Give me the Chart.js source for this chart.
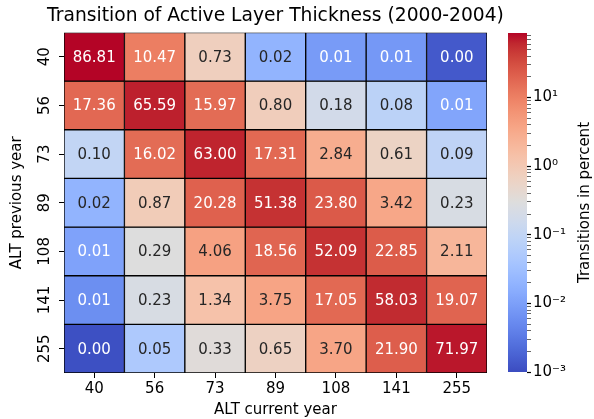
<!DOCTYPE html>
<html>
<head>
<meta charset="utf-8">
<script src="https://cdn.jsdelivr.net/npm/chart.js@4/dist/chart.umd.min.js"></script>
<style>
  html, body { margin: 0; padding: 0; background: #fff; }
  #wrap { position: relative; width: 594px; height: 419px; }
  canvas { position: absolute; left: 0; top: 0; }
</style>
</head>
<body>
<div id="wrap">
  <canvas id="heat" width="594" height="419"></canvas>
  <canvas id="cbar" width="594" height="419"></canvas>
</div>
<script>
// ALT classes (cm), rows = previous year, columns = current year
const altClasses = ['40', '56', '73', '89', '108', '141', '255'];

// transition percentages, one array per previous-year class (top to bottom)
// tiny cells ("0.00", "0.01") carry an estimate of the unrounded value read from their colour
const row40  = [86.81, 10.47, 0.73, 0.02, 0.0087, 0.008, 0.0014];
const row56  = [17.36, 65.59, 15.97, 0.80, 0.18, 0.08, 0.012];
const row73  = [0.10, 16.02, 63.00, 17.31, 2.84, 0.61, 0.09];
const row89  = [0.02, 0.87, 20.28, 51.38, 23.80, 3.42, 0.23];
const row108 = [0.011, 0.29, 4.06, 18.56, 52.09, 22.85, 2.11];
const row141 = [0.006, 0.23, 1.34, 3.75, 17.05, 58.03, 19.07];
const row255 = [0.0011, 0.05, 0.33, 0.65, 3.70, 21.90, 71.97];
const transitions = [row40, row56, row73, row89, row108, row141, row255];

const vmin = 0.001;
const vmax = 86.81;

// colorbar ticks (powers of ten)
const cbarExponents = [-3, -2, -1, 0, 1];

const chartTitle = 'Transition of Active Layer Thickness (2000-2004)';

// coolwarm colormap
const coolwarm = [
  [59,76,192],[68,90,204],[77,104,215],[87,117,225],[98,130,234],[108,142,241],
  [119,154,247],[130,165,251],[141,176,254],[152,185,255],[163,194,255],[174,201,253],
  [184,208,249],[194,213,244],[204,217,238],[213,219,230],[221,221,221],[229,216,209],
  [236,211,197],[241,204,185],[245,196,173],[247,187,160],[247,177,148],[247,166,135],
  [244,154,123],[241,141,111],[236,127,99],[229,112,88],[222,96,77],[213,80,66],
  [203,62,56],[192,40,47],[180,4,38]
];

function cmap(t) {
  t = Math.max(0, Math.min(1, t));
  const p = t * (coolwarm.length - 1);
  const i = Math.min(Math.floor(p), coolwarm.length - 2);
  const f = p - i;
  const a = coolwarm[i], b = coolwarm[i + 1];
  return [0, 1, 2].map(k => Math.round(a[k] + (b[k] - a[k]) * f));
}

function normLog(v) {
  return (Math.log10(v) - Math.log10(vmin)) / (Math.log10(vmax) - Math.log10(vmin));
}

function rgbStr(c) { return 'rgb(' + c[0] + ',' + c[1] + ',' + c[2] + ')'; }

function textColor(c) {
  const lin = c.map(x => {
    x = x / 255;
    return x <= 0.03928 ? x / 12.92 : Math.pow((x + 0.055) / 1.055, 2.4);
  });
  const lum = 0.2126 * lin[0] + 0.7152 * lin[1] + 0.0722 * lin[2];
  return lum > 0.408 ? '#262626' : '#ffffff';
}

const FONT = '"DejaVu Sans", sans-serif';
Chart.defaults.font.family = FONT;
Chart.defaults.color = '#000';

// heatmap: one floating-bar dataset per row
const datasets = transitions.map((row, r) => ({
  label: altClasses[r],
  data: row.map(() => [altClasses.length - 1 - r, altClasses.length - r]),
  backgroundColor: row.map(v => rgbStr(cmap(normLog(v)))),
  borderColor: '#000',
  borderWidth: 1,
  borderSkipped: false,
  barPercentage: 1,
  categoryPercentage: 1
}));

const cellLabels = {
  id: 'cellLabels',
  afterDatasetsDraw(chart) {
    const ctx = chart.ctx;
    ctx.save();
    ctx.font = '15px ' + FONT;
    ctx.textAlign = 'center';
    ctx.textBaseline = 'middle';
    transitions.forEach((row, r) => {
      chart.getDatasetMeta(r).data.forEach((bar, j) => {
        const v = row[j];
        ctx.fillStyle = textColor(cmap(normLog(v)));
        ctx.fillText(v.toFixed(2), bar.x, (bar.y + bar.base) / 2 + 1);
      });
    });
    ctx.restore();
  }
};

// title centred over the heatmap, drawn without width squeezing
const heatTitle = {
  id: 'heatTitle',
  afterDraw(chart) {
    const ctx = chart.ctx;
    const a = chart.chartArea;
    ctx.save();
    ctx.font = '18.7px ' + FONT;
    ctx.fillStyle = '#000';
    ctx.textAlign = 'center';
    ctx.textBaseline = 'middle';
    ctx.fillText(chartTitle, (a.left + a.right) / 2, 16);
    ctx.restore();
  }
};

new Chart(document.getElementById('heat'), {
  type: 'bar',
  data: { labels: altClasses, datasets: datasets },
  options: {
    responsive: false,
    animation: false,
    layout: { padding: { left: 0, right: 107, top: 32.5, bottom: 0 } },
    plugins: {
      legend: { display: false },
      tooltip: { enabled: false },
      title: { display: false }
    },
    scales: {
      x: {
        stacked: true,
        border: { display: false },
        grid: { drawOnChartArea: false, offset: false, color: '#000', tickLength: 5 },
        ticks: { font: { size: 15 }, color: '#000', padding: 2 },
        title: { display: true, text: 'ALT current year', font: { size: 15 }, color: '#000', padding: { top: 0, bottom: 0 } },
        afterFit(scale) { scale.height = 46; }
      },
      y: {
        min: 0,
        max: altClasses.length,
        border: { display: false },
        grid: { drawOnChartArea: false, color: '#000', tickLength: 5 },
        afterBuildTicks(scale) {
          scale.ticks = altClasses.map((c, i) => ({ value: i + 0.5 }));
        },
        ticks: {
          font: { size: 15 },
          color: '#000',
          minRotation: 90,
          maxRotation: 90,
          crossAlign: 'center',
          padding: 0,
          callback: (v) => altClasses[altClasses.length - 1 - Math.floor(v)]
        },
        title: { display: true, text: 'ALT previous year', font: { size: 15 }, color: '#000', padding: { top: 8, bottom: 0 } },
        afterFit(scale) { scale.width = 64; }
      }
    }
  },
  plugins: [cellLabels, heatTitle]
});

// colorbar
const sup = { '-': '\u207B', '0': '\u2070', '1': '\u00B9', '2': '\u00B2', '3': '\u00B3' };
function isPow10(v) {
  const l = Math.log10(v);
  return Math.abs(l - Math.round(l)) < 1e-6;
}
function powLabel(v) {
  const e = String(Math.round(Math.log10(v)));
  return '10' + e.split('').map(ch => sup[ch]).join('');
}

const cbarLabel = {
  id: 'cbarLabel',
  afterDraw(chart) {
    const ctx = chart.ctx;
    const a = chart.chartArea;
    ctx.save();
    ctx.font = '15px ' + FONT;
    ctx.fillStyle = '#000';
    ctx.textAlign = 'center';
    ctx.textBaseline = 'middle';
    ctx.translate(585, (a.top + a.bottom) / 2);
    ctx.rotate(-Math.PI / 2);
    ctx.fillText('Transitions in percent', 0, 0);
    ctx.restore();
  }
};

new Chart(document.getElementById('cbar'), {
  type: 'bar',
  data: {
    labels: ['cbar'],
    datasets: [{
      data: [[vmin, vmax]],
      borderWidth: 0,
      borderSkipped: false,
      barPercentage: 1,
      categoryPercentage: 1,
      backgroundColor(context) {
        const area = context.chart.chartArea;
        if (!area) return '#ddd';
        const g = context.chart.ctx.createLinearGradient(0, area.bottom, 0, area.top);
        for (let i = 0; i <= 64; i++) {
          g.addColorStop(i / 64, rgbStr(cmap(i / 64)));
        }
        return g;
      }
    }]
  },
  options: {
    responsive: false,
    animation: false,
    layout: { padding: { left: 508, right: 0, top: 33, bottom: 47 } },
    plugins: { legend: { display: false }, tooltip: { enabled: false } },
    scales: {
      x: { display: false },
      y: {
        type: 'logarithmic',
        position: 'right',
        min: vmin,
        max: vmax,
        border: { display: false },
        grid: {
          drawOnChartArea: false,
          color: '#000',
          tickLength: 4,
          tickWidth: (ctx) => (ctx.tick && isPow10(ctx.tick.value) ? 1.2 : 0.6)
        },
        afterBuildTicks(scale) {
          const ticks = [];
          cbarExponents.forEach(e => {
            for (let k = 1; k <= 9; k++) {
              const v = parseFloat((k * Math.pow(10, e)).toPrecision(3));
              if (v >= vmin && v <= vmax) ticks.push({ value: v });
            }
          });
          scale.ticks = ticks;
        },
        ticks: {
          autoSkip: false,
          font: { size: 15 },
          color: '#000',
          padding: 2,
          callback: (v) => (isPow10(v) ? powLabel(v) : '')
        },
        afterFit(scale) { scale.width = 67; }
      }
    }
  },
  plugins: [cbarLabel]
});
</script>
</body>
</html>
